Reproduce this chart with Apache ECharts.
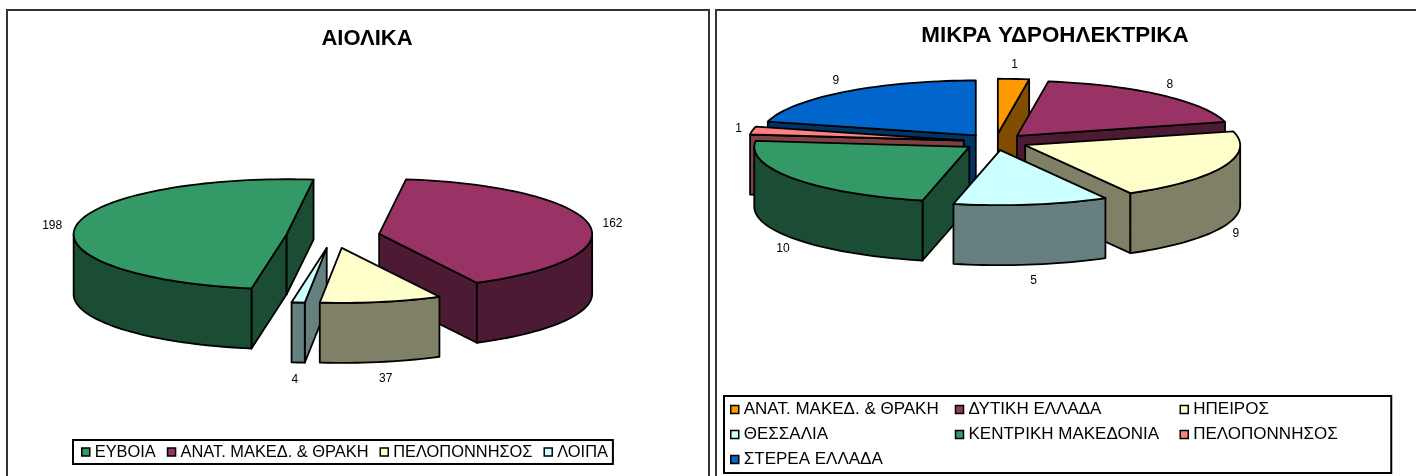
<!DOCTYPE html>
<html>
<head>
<meta charset="utf-8">
<title>ΑΙΟΛΙΚΑ / ΜΙΚΡΑ ΥΔΡΟΗΛΕΚΤΡΙΚΑ</title>
<script src="https://cdn.jsdelivr.net/npm/echarts@6/dist/echarts.min.js"></script>
<style>
  html, body { margin: 0; padding: 0; background: #fff; overflow: hidden; }
  .panel { position: absolute; top: 0; height: 476px; }
  #windChart { left: 0; width: 712px; }
  #hydroChart { left: 712px; width: 704px; }
  .frame { position: absolute; top: 9px; height: 480px; border: 2px solid #333; box-sizing: border-box; pointer-events: none; }
</style>
</head>
<body>
<div id="windChart" class="panel"></div>
<div id="hydroChart" class="panel"></div>
<div class="frame" style="left:6px;width:704px"></div>
<div class="frame" style="left:715px;width:705px"></div>
<script>
// ΑΙΟΛΙΚΑ
const windNames = ['ΕΥΒΟΙΑ', 'ΑΝΑΤ. ΜΑΚΕΔ. & ΘΡΑΚΗ', 'ΠΕΛΟΠΟΝΝΗΣΟΣ', 'ΛΟΙΠΑ'];
const windValues = [198, 162, 37, 4];

// ΜΙΚΡΑ ΥΔΡΟΗΛΕΚΤΡΙΚΑ
const hydroNames = ['ΑΝΑΤ. ΜΑΚΕΔ. & ΘΡΑΚΗ', 'ΔΥΤΙΚΗ ΕΛΛΑΔΑ', 'ΗΠΕΙΡΟΣ', 'ΘΕΣΣΑΛΙΑ', 'ΚΕΝΤΡΙΚΗ ΜΑΚΕΔΟΝΙΑ', 'ΠΕΛΟΠΟΝΝΗΣΟΣ', 'ΣΤΕΡΕΑ ΕΛΛΑΔΑ'];
const hydroValues = [1, 8, 9, 5, 10, 1, 9];

// top colour, wall colour
const green = ['#339966', '#1a4d33'];
const wine = ['#993366', '#4d1a33'];
const cream = ['#ffffcc', '#808066'];
const ice = ['#ccffff', '#668080'];
const orange = ['#ff9900', '#804d00'];
const salmon = ['#ff8080', '#804040'];
const blue = ['#0066cc', '#003366'];

const rad = Math.PI / 180;

// the exploded pie is worked out from the values, clockwise from firstAngle (0 = 12 o'clock)
function pieSeries(names, values, colors, drawOrder, pie) {
  const total = values.reduce((a, b) => a + b, 0);
  let angle = pie.firstAngle;
  const slices = values.map((v) => {
    const s = { from: angle, to: angle + v / total * 360 };
    angle = s.to;
    return s;
  });

  return names.map((name, i) => {
    const { from, to } = slices[i];
    const mid = (from + to) / 2;
    const cx = pie.cx + pie.explode * pie.a * Math.sin(mid * rad);
    const cy = pie.cy - pie.explode * pie.b * Math.cos(mid * rad);
    const at = (t, drop) => [
      cx + pie.a * Math.sin(t * rad),
      cy - pie.b * Math.cos(t * rad) + (drop || 0)
    ];
    const arc = (t1, t2, drop) => {
      const pts = [];
      const n = Math.max(2, Math.ceil((t2 - t1) / 2));
      for (let k = 0; k <= n; k++) pts.push(at(t1 + (t2 - t1) * k / n, drop));
      return pts;
    };
    const radial = (t) => [[cx, cy], at(t), at(t, pie.h), [cx, cy + pie.h]];

    return {
      type: 'custom',
      name: name,
      coordinateSystem: 'none',
      silent: true,
      z: 2 + drawOrder.indexOf(i),
      itemStyle: { color: colors[i][0] },
      data: [[values[i]]],
      renderItem: function (params, api) {
        const wall = { fill: colors[i][1], stroke: '#000', lineWidth: pie.line, lineJoin: 'round' };
        const children = [];
        // side faces that look towards the viewer
        if (Math.sin(from * rad) < 0) children.push({ type: 'polygon', shape: { points: radial(from) }, style: wall });
        if (Math.sin(to * rad) > 0) children.push({ type: 'polygon', shape: { points: radial(to) }, style: wall });
        // curved outer wall, front half of the ellipse
        [[90, 270], [450, 630]].forEach((range) => {
          const t1 = Math.max(from, range[0]);
          const t2 = Math.min(to, range[1]);
          if (t2 > t1) {
            children.push({
              type: 'polygon',
              shape: { points: arc(t1, t2, 0).concat(arc(t1, t2, pie.h).reverse()) },
              style: wall
            });
          }
        });
        children.push({
          type: 'polygon',
          shape: { points: [[cx, cy]].concat(arc(from, to, 0)) },
          style: { fill: colors[i][0], stroke: '#000', lineWidth: pie.line, lineJoin: 'round' }
        });
        const edge = at(mid, Math.cos(mid * rad) < 0 ? pie.h : 0);
        children.push({
          type: 'text',
          x: edge[0] + pie.labelGap * Math.sin(mid * rad),
          y: edge[1] - 15 * Math.cos(mid * rad) + pie.labelDrop,
          style: {
            text: String(api.value(0)),
            align: 'center',
            verticalAlign: 'middle',
            fill: '#000',
            font: '12px "Liberation Sans", Arial, sans-serif'
          }
        });
        return { type: 'group', children: children };
      }
    };
  });
}

const windOption = {
  animation: false,
  backgroundColor: '#fff',
  title: {
    text: 'ΑΙΟΛΙΚΑ',
    left: 362,
    top: 23,
    textAlign: 'center',
    textStyle: { fontFamily: 'Liberation Sans', fontSize: 22, fontWeight: 'bold', color: '#000' }
  },
  legend: {
    data: windNames,
    left: 73,
    top: 440,
    orient: 'horizontal',
    icon: 'rect',
    itemWidth: 8,
    itemHeight: 8,
    itemGap: 11,
    padding: [4, 5, 4, 8],
    borderColor: '#000',
    borderWidth: 2,
    selectedMode: false,
    itemStyle: { borderColor: '#000', borderWidth: 1.5 },
    textStyle: { fontFamily: 'Liberation Sans', fontSize: 16.4, color: '#000' }
  },
  series: pieSeries(windNames, windValues, [green, wine, cream, ice], [0, 1, 3, 2], {
    firstAngle: 189.5, cx: 333, cy: 236, a: 213, b: 55, h: 60, explode: 0.22, line: 1.8, labelGap: 24, labelDrop: 2
  })
};

// three columns, the last one narrower so the box closes where the reference does
const hydroLegendData = hydroNames.map((name, i) => ({
  name: name,
  textStyle: { width: i % 3 === 2 ? 198 : 211 }
}));

const hydroOption = {
  animation: false,
  backgroundColor: '#fff',
  title: {
    text: 'ΜΙΚΡΑ ΥΔΡΟΗΛΕΚΤΡΙΚΑ',
    left: 338,
    top: 20,
    textAlign: 'center',
    textStyle: { fontFamily: 'Liberation Sans', fontSize: 22.4, fontWeight: 'bold', color: '#000' }
  },
  legend: {
    data: hydroLegendData,
    left: 12,
    top: 396,
    width: 680,
    orient: 'horizontal',
    icon: 'rect',
    itemWidth: 8,
    itemHeight: 8,
    itemGap: 0,
    padding: [1, 0, 1, 6],
    borderColor: '#000',
    borderWidth: 2,
    selectedMode: false,
    itemStyle: { borderColor: '#000', borderWidth: 1.5 },
    textStyle: { fontFamily: 'Liberation Sans', fontSize: 17, lineHeight: 25, overflow: 'none', color: '#000' }
  },
  series: pieSeries(hydroNames, hydroValues, [orange, wine, cream, ice, green, salmon, blue], [6, 0, 1, 5, 2, 4, 3], {
    firstAngle: 0, cx: 283.5, cy: 142, a: 215, b: 55, h: 60, explode: 0.15, line: 1.8, labelGap: 14, labelDrop: 1
  })
};

const windChart = echarts.init(document.getElementById('windChart'));
windChart.setOption(windOption);
const hydroChart = echarts.init(document.getElementById('hydroChart'));
hydroChart.setOption(hydroOption);
</script>
</body>
</html>
